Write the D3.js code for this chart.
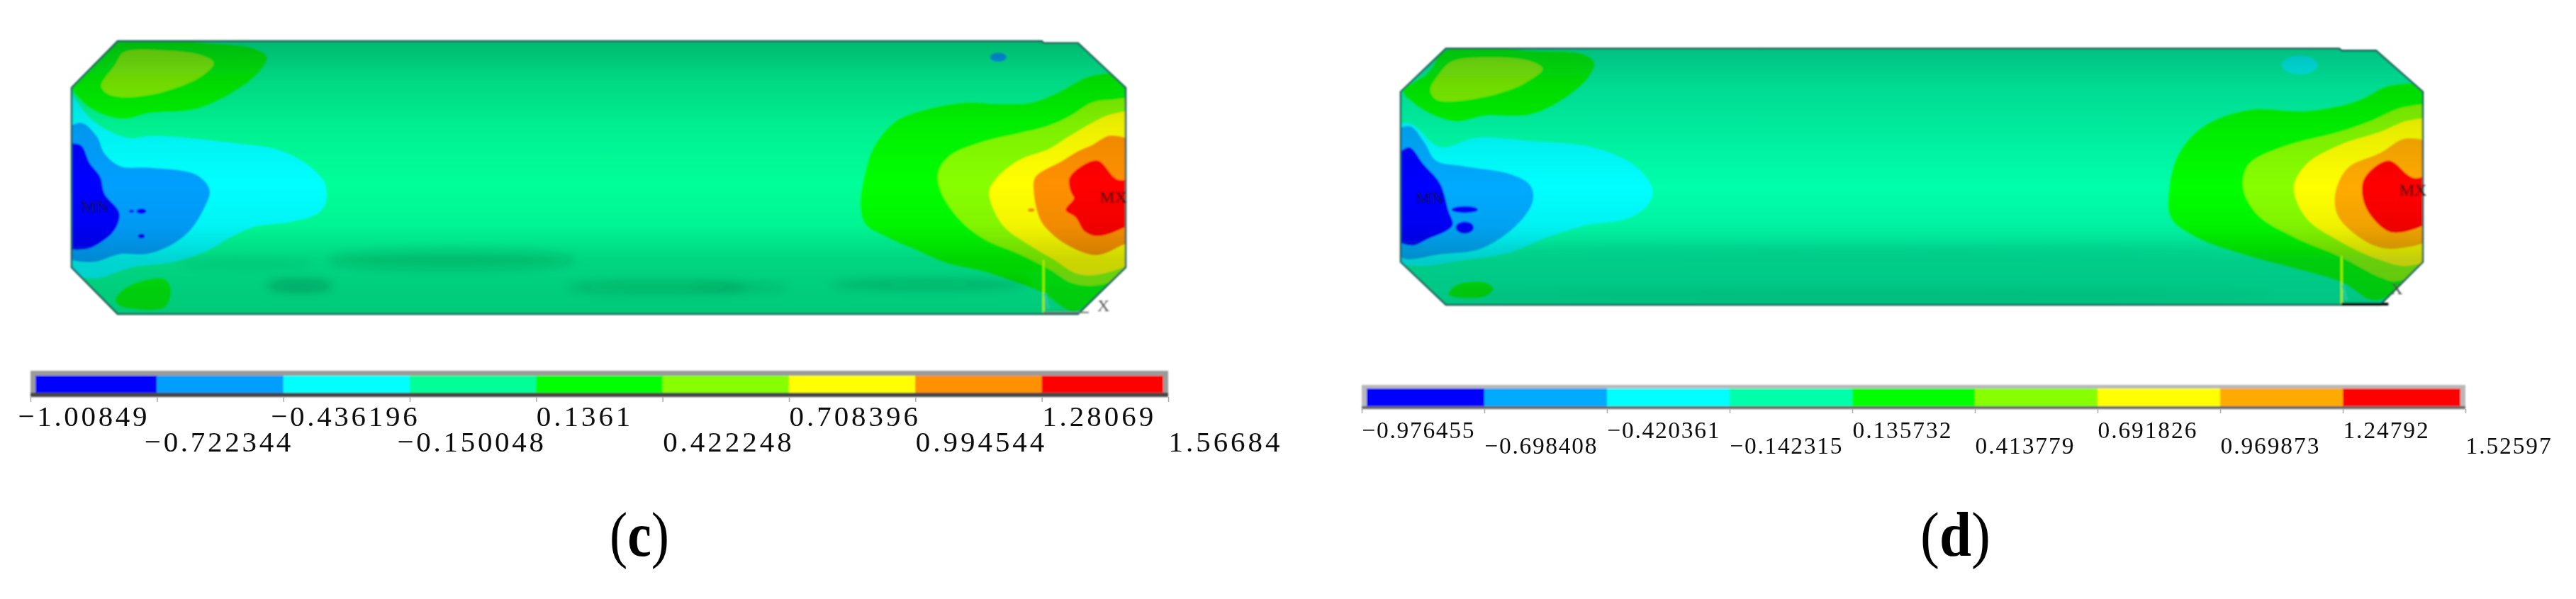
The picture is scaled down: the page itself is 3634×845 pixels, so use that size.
<!DOCTYPE html>
<html><head><meta charset="utf-8">
<script src="https://d3js.org/d3.v7.min.js"></script>
<style>html,body{margin:0;background:#fff}svg{display:block}</style></head>
<body><svg id="c" width="3634" height="845"></svg>
<script>
// ---- legend values
const valuesC = [-1.00849,-0.722344,-0.436196,-0.150048,0.1361,0.422248,0.708396,0.994544,1.28069,1.56684];
const valuesD = [-0.976455,-0.698408,-0.420361,-0.142315,0.135732,0.413779,0.691826,0.969873,1.24792,1.52597];
const colorsC = ["#0000ff","#009fff","#00ffff","#00ff99","#00ff00","#88ff00","#ffff00","#ff9000","#ff0000"];
const colorsD = ["#0000ff","#00aaff","#00ffff","#00ffaa","#00ff00","#88ff00","#ffff00","#ffaa00","#ff0000"];
// ---- contour outlines: [axial, hoop] in a panel's own units; band = index into the colours
const outlineC = [[143,108],[1268,108],[1270,113],[1312,113],[1370,230],[1370,700],[1312,822],[143,822],[87,700],[87,230]];
const bandsC = [
 {band:4,pts:[[148,108],[250,113],[310,128],[325,150],[315,190],[285,240],[240,285],[180,297],[150,312],[115,290],[95,255],[88,225],[115,170]]},
 {band:5,pts:[[150,138],[195,132],[245,145],[260,165],[245,200],[200,240],[150,255],[130,245],[123,225],[140,170]]},
 {band:2,pts:[[80,240],[109,309],[135,346],[158,362],[187,356],[282,374],[339,393],[371,427],[394,476],[397,525],[388,557],[354,581],[311,593],[282,619],[253,655],[210,686],[161,699],[112,729],[80,699]]},
 {band:1,pts:[[80,346],[99,322],[118,358],[127,402],[147,436],[181,439],[239,458],[255,498],[247,551],[230,606],[207,643],[178,665],[147,665],[112,686],[80,668]]},
 {band:0,pts:[[80,384],[98,380],[109,427],[122,464],[127,507],[145,557],[140,600],[121,637],[102,653],[80,643]]},
 {band:4,pts:[[140,785],[155,750],[200,730],[208,760],[200,805],[160,808],[145,800]]},
 {band:4,pts:[[1335,195],[1283,247],[1254,269],[1217,272],[1174,269],[1125,288],[1090,318],[1064,383],[1053,451],[1047,538],[1053,587],[1076,618],[1116,656],[1153,690],[1197,711],[1240,742],[1269,767],[1306,815],[1340,770],[1390,700],[1390,215]]},
 {band:5,pts:[[1350,262],[1329,269],[1303,303],[1274,331],[1240,349],[1197,371],[1156,408],[1142,451],[1145,501],[1168,575],[1197,625],[1240,665],[1277,705],[1306,742],[1340,745],[1390,690],[1390,268]]},
 {band:6,pts:[[1355,298],[1329,322],[1300,359],[1277,390],[1240,420],[1214,464],[1204,501],[1211,557],[1225,600],[1254,643],[1283,680],[1312,717],[1345,715],[1390,660],[1390,300]]},
 {band:7,pts:[[1352,355],[1329,380],[1312,396],[1294,420],[1260,464],[1258,501],[1266,575],[1277,606],[1300,643],[1335,668],[1368,640],[1390,620],[1390,390]]},
 {band:8,pts:[[1335,420],[1302,464],[1303,501],[1307,519],[1297,550],[1309,569],[1320,606],[1335,618],[1364,600],[1390,560],[1390,470],[1360,470]]}
];
const spotsC = [[172,553,6,7,0],[160,553,3,4,0],[172,618,4,6,0],[1215,150,10,12,1],[1255,550,4,5,7]];
const shadeC = [[108,.34],[200,.2],[340,.07],[480,0],[590,.05],[680,.2],[822,.26]];
const streaksC = [[550,680,150,25,.14],[365,748,40,12,.28],[800,752,110,14,.16],[900,752,60,8,.14],[1130,745,120,10,.2],[300,690,80,12,.06]];

const outlineD = [[192,127],[1280,127],[1283,132],[1325,132],[1382,240],[1382,685],[1330,797],[192,797],[137,685],[137,240]];
const bandsD = [
 {band:4,pts:[[192,133],[300,133],[360,142],[373,165],[365,205],[335,260],[295,300],[240,303],[205,318],[175,300],[150,265],[140,240],[170,190]]},
 {band:5,pts:[[200,160],[240,150],[295,160],[310,180],[290,215],[255,245],[200,265],[180,260],[173,235],[185,190]]},
 {band:2,pts:[[130,330],[150,325],[185,385],[230,360],[300,370],[370,385],[420,430],[443,490],[440,530],[415,570],[360,590],[310,625],[270,660],[215,680],[160,695],[130,680]]},
 {band:1,pts:[[130,350],[148,330],[165,370],[180,420],[215,435],[270,455],[295,485],[298,525],[280,585],[235,650],[185,665],[140,675],[130,640]]},
 {band:0,pts:[[130,420],[147,385],[165,430],[185,480],[195,550],[200,590],[170,625],[150,642],[130,620]]},
 {band:4,pts:[[195,770],[205,745],[240,738],[250,755],[240,775],[205,778]]},
 {band:4,pts:[[1345,222],[1300,265],[1240,290],[1170,287],[1115,330],[1085,400],[1073,490],[1075,570],[1105,620],[1170,670],[1240,710],[1285,740],[1320,785],[1345,770],[1400,685],[1400,240]]},
 {band:5,pts:[[1360,280],[1320,315],[1280,345],[1210,385],[1170,430],[1163,490],[1180,560],[1225,620],[1280,670],[1330,725],[1350,735],[1400,680],[1400,285]]},
 {band:6,pts:[[1365,315],[1330,345],[1280,380],[1240,430],[1225,490],[1240,570],[1280,630],[1330,680],[1362,695],[1400,660],[1400,320]]},
 {band:7,pts:[[1362,362],[1330,400],[1290,440],[1275,510],[1280,570],[1320,640],[1350,650],[1400,610],[1400,390]]},
 {band:8,pts:[[1340,420],[1310,470],[1312,540],[1340,605],[1370,600],[1400,560],[1400,460],[1370,465]]}
];
const spotsD = [[215,548,16,9,0],[215,595,11,16,0],[1232,170,22,24,2]];
const shadeD = [[127,.3],[220,.18],[360,.08],[490,0],[590,.06],[680,.24],[797,.28]];
const streaksD = [[700,655,450,8,.07],[700,770,500,14,.05]];

const svg = d3.select("#c"), defs = svg.append("defs");
defs.append("filter").attr("id","soft").attr("x","-5%").attr("y","-5%").attr("width","110%").attr("height","110%")
  .append("feGaussianBlur").attr("stdDeviation",1.3);
defs.append("filter").attr("id","softer").attr("x","-50%").attr("y","-100%").attr("width","200%").attr("height","300%")
  .append("feGaussianBlur").attr("stdDeviation",7);
defs.append("filter").attr("id","softText").attr("x","-5%").attr("y","-30%").attr("width","110%").attr("height","160%")
  .append("feGaussianBlur").attr("stdDeviation",.5);

function panel(p){
  const x = d3.scaleLinear().domain(p.axial).range(p.xr);
  const y = d3.scaleLinear().domain(p.hoop).range(p.yr);
  const closedSmooth = d3.line().x(d=>x(d[0])).y(d=>y(d[1])).curve(d3.curveCatmullRomClosed.alpha(.5));
  const closedSharp = d3.line().x(d=>x(d[0])).y(d=>y(d[1])).curve(d3.curveLinearClosed);
  defs.append("clipPath").attr("id","clip"+p.id).append("path").attr("d",closedSharp(p.outline));
  const gradId = "shade"+p.id;
  const grad = defs.append("linearGradient").attr("id",gradId).attr("gradientUnits","userSpaceOnUse")
    .attr("x1",0).attr("x2",0).attr("y1",y(p.hoop[0])).attr("y2",y(p.hoop[1]));
  const off = d3.scaleLinear().domain(p.hoop).range([0,1]);
  p.shade.forEach(s=>grad.append("stop").attr("offset",off(s[0])).attr("stop-color","#003020").attr("stop-opacity",s[1]));

  const g = svg.append("g").attr("filter","url(#soft)");
  const body = g.append("g").attr("clip-path",`url(#clip${p.id})`);
  body.append("path").attr("d",closedSharp(p.outline)).attr("fill",p.colors[3]);
  body.selectAll("path.band").data(p.bands).join("path").attr("class","band")
    .attr("d",d=>closedSmooth(d.pts)).attr("fill",d=>p.colors[d.band]);
  body.selectAll("ellipse.spot").data(p.spots).join("ellipse").attr("class","spot")
    .attr("cx",d=>x(d[0])).attr("cy",d=>y(d[1]))
    .attr("rx",d=>Math.abs(x(d[2])-x(0))).attr("ry",d=>Math.abs(y(d[3])-y(0)))
    .attr("fill",d=>p.colors[d[4]]);
  body.append("path").attr("d",closedSharp(p.outline)).attr("fill",`url(#${gradId})`);
  body.append("g").attr("filter","url(#softer)").selectAll("ellipse").data(p.streaks).join("ellipse")
    .attr("cx",d=>x(d[0])).attr("cy",d=>y(d[1]))
    .attr("rx",d=>Math.abs(x(d[2])-x(0))).attr("ry",d=>Math.abs(y(d[3])-y(0)))
    .attr("fill","#002818").attr("opacity",d=>d[4]);
  g.append("path").attr("d",closedSharp(p.outline)).attr("fill","none").attr("stroke","#1d5c55").attr("stroke-width",2.5);

  // triad and node labels
  const t = p.triad;
  g.append("line").attr("x1",x(t.x0)).attr("x2",x(t.x0)).attr("y1",y(t.y0)).attr("y2",y(t.y1)).attr("stroke","#a0f000").attr("stroke-width",3);
  g.append("line").attr("x1",x(t.x0+6)).attr("x2",x(t.x0)+2).attr("y1",y(t.y1-10)).attr("y2",y(t.y1-50)).attr("stroke","#20c8a0").attr("stroke-width",4);
  g.append("line").attr("x1",x(t.x0)).attr("x2",x(t.x1)).attr("y1",y(t.y1)).attr("y2",y(t.y1)).attr("stroke",p.axisColor).attr("stroke-width",p.axisW);
  g.selectAll("text.node").data(p.nodes).join("text").attr("class","node")
    .attr("x",d=>x(d[0])).attr("y",d=>y(d[1])).attr("text-anchor","middle")
    .attr("font-family","Liberation Serif").attr("font-size",p.nodeSize).attr("fill",d=>d[3]||"#111").text(d=>d[2]);

  // legend
  const bar = d3.scaleLinear().domain([p.values[0],p.values[9]]).range(p.barX);
  const lg = svg.append("g").attr("filter","url(#soft)");
  lg.append("rect").attr("x",p.barX[0]).attr("y",p.barY[0]).attr("width",p.barX[1]-p.barX[0]).attr("height",p.barY[3]-p.barY[0]).attr("fill",p.barFrame[0]);
  lg.append("rect").attr("x",p.barX[0]).attr("y",p.barY[2]).attr("width",p.barX[1]-p.barX[0]).attr("height",p.barY[3]-p.barY[2]).attr("fill",p.barFrame[1]);
  lg.selectAll("rect.cell").data(p.colors).join("rect").attr("class","cell")
    .attr("x",(d,i)=> i? bar(p.values[i]) : p.barX[0]+p.inset)
    .attr("width",(d,i)=> (i==8? p.barX[1]-p.inset : bar(p.values[i+1])) - (i? bar(p.values[i]) : p.barX[0]+p.inset))
    .attr("y",p.barY[1]).attr("height",p.barY[2]-p.barY[1]).attr("fill",d=>d);

  const axis = d3.axisBottom(bar).tickValues(p.values).tickSize(p.tick).tickSizeOuter(0)
    .tickFormat(v=>String(v).replace("-","\u2212"));
  const ag = svg.append("g").attr("transform",`translate(0,${p.barY[3]})`).call(axis);
  ag.select(".domain").remove();
  ag.selectAll("line").attr("stroke","#aaa").attr("stroke-width",1.5);
  ag.selectAll("text")
    .attr("filter","url(#softText)")
    .attr("font-family","Liberation Serif").attr("font-size",p.labelSize).attr("fill","#111")
    .attr("text-anchor","start").attr("dy",0)
    .attr("x",(v)=> v<0 ? -p.neg : p.pos)
    .attr("y",(v,i)=> p.rows[i%2]-p.barY[3])
    .attr("textLength",function(){
      const s=this.textContent, digits=s.replace(/[^0-9]/g,"").length;
      return digits*p.digitW + p.dotW + (s[0]==="\u2212"?p.dashW:0);
    })
    .attr("lengthAdjust","spacing");

  // caption
  const cap = svg.append("text").attr("transform",`translate(${p.capX},${p.capY}) scale(${p.capStretch},1)`)
    .attr("font-family","Liberation Serif").attr("font-size",p.capSize).attr("fill","#000");
  cap.append("tspan").text("(");
  cap.append("tspan").attr("font-weight","bold").text(p.cap);
  cap.append("tspan").text(")");
}

panel({id:"C",axial:[87,1370],hoop:[108,822],xr:[101,1588],yr:[58,443],
  outline:outlineC,bands:bandsC,spots:spotsC,shade:shadeC,streaks:streaksC,colors:colorsC,values:valuesC,
  triad:{x0:1270,y0:680,y1:818,x1:1325},axisColor:"#777",axisW:2,nodeSize:24,
  nodes:[[115,555,"MN"],[1355,530,"MX"],[1343,815,"X","#555"]],
  barX:[43,1648],barY:[523,530,554,560],barFrame:["#9a9a9a","#444"],inset:7,tick:7,
  labelSize:41,digitW:24.5,dotW:10,dashW:25,neg:18,pos:0,rows:[601,637],
  cap:"c",capX:860,capY:784,capSize:88,capStretch:.86});
panel({id:"D",axial:[137,1382],hoop:[127,797],xr:[1976,3418],yr:[68.5,430],
  outline:outlineD,bands:bandsD,spots:spotsD,shade:shadeD,streaks:streaksD,colors:colorsD,values:valuesD,
  triad:{x0:1283,y0:670,y1:795,x1:1340},axisColor:"#111",axisW:4,nodeSize:24,
  nodes:[[172,532,"MN"],[1370,512,"MX"],[1350,770,"X","#444"]],
  barX:[1921,3478],barY:[543,548,573,577],barFrame:["#b8b8b8","#666"],inset:7,tick:6,
  labelSize:33.5,digitW:18.7,dotW:8,dashW:19,neg:0,pos:0,rows:[618,640],
  cap:"d",capX:2709,capY:784,capSize:88,capStretch:.92});
</script></body></html>
